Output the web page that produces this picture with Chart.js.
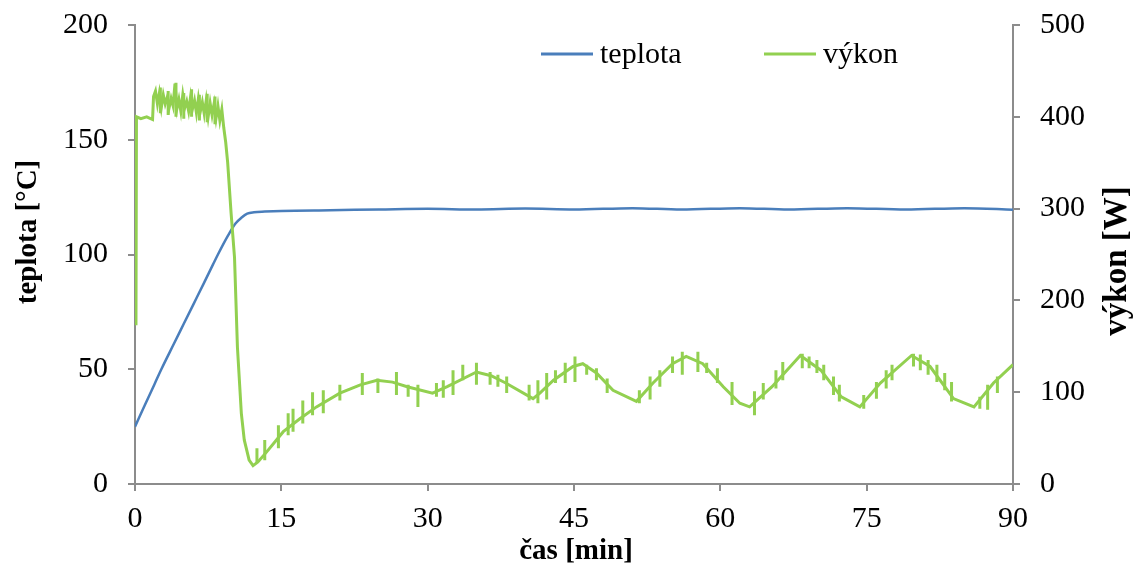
<!DOCTYPE html>
<html lang="cs">
<head>
<meta charset="utf-8">
<title>teplota a výkon</title>
<script src="https://cdn.jsdelivr.net/npm/chart.js@4.4.0/dist/chart.umd.min.js"></script>
<style>
	html, body { margin: 0; padding: 0; background: #fff; }
	canvas { display: block; }
</style>
</head>
<body>
<canvas id="graf" width="1136" height="566"></canvas>
<script>
// teplota [°C] – levá osa
const casTeplota = [0, 1, 2, 2.7, 4, 5, 6, 7, 8, 8.5, 9.5, 10.3, 10.9, 11.5, 12.2, 13.3, 15, 20, 25, 30, 35, 40, 45, 51, 56, 62, 67, 73, 79, 85, 90];
const teplota = [25, 34.3, 43.5, 50, 61.2, 69.8, 78.4, 87, 95.7, 100, 108, 113.5, 116, 117.8, 118.4, 118.7, 119, 119.3, 119.6, 119.9, 119.6, 120, 119.6, 120.2, 119.6, 120.2, 119.6, 120.2, 119.6, 120.2, 119.5];

// výkon [W] – pravá osa
const casVykon = [
	0.1, 0.15, 0.6, 1.2, 1.8,
	1.9, 2.1, 2.3, 2.5, 2.7, 2.9, 3.1, 3.3, 3.5, 3.7, 3.9, 4.1, 4.3, 4.5, 4.7, 4.9, 5.1, 5.3, 5.5, 5.7,
	5.9, 6.1, 6.3, 6.5, 6.7, 6.9, 7.1, 7.3, 7.5, 7.7, 7.9, 8.1, 8.3, 8.5, 8.7, 8.9, 9.1,
	9.3, 9.5, 9.85, 10.2, 10.5, 10.9, 11.2, 11.7, 12.1, 12.6, 13.5, 15.2, 16.9, 18.6, 21, 23.1, 24.8,
	26.4, 27.9, 30.5, 32, 35, 36.5, 38, 40.8, 41.5, 42.9, 44.9, 45.9, 47.3, 49, 51.4, 53.1, 55.1,
	56.5, 58.2, 60.3, 62, 63, 65.3, 68.2, 70.3, 72.4, 74.3, 76.4, 79.6, 81.5, 83.9, 86, 88, 90
];
const vykon = [
	173, 400, 398, 400, 397,
	422, 428, 414, 426, 410, 424, 414, 421, 410, 420, 412, 436, 409, 419, 406, 424, 410, 417, 406, 422,
	409, 418, 404, 420, 406, 416, 403, 418, 400, 415, 402, 414, 398, 412, 396, 408, 388,
	372, 350, 295, 247, 149, 77, 48, 26, 20, 24, 35, 57, 71, 84, 99, 108, 113,
	111, 106, 99, 106, 122, 118, 110, 93, 99, 113, 128, 131, 121, 102, 90, 110, 131,
	139, 131, 106, 88, 84, 106, 140, 124, 95, 84, 110, 140, 128, 93, 84, 110, 130
];

// krátké svislé špičky výkonu (čas, minimum, maximum)
const spickyCas = [2.6, 3.4, 4.2, 5.0, 5.8, 6.6, 7.4, 8.2, 12.5, 13.3, 14.7, 15.7, 16.2, 17.2, 18.2, 19.3, 21, 23.3, 24.9, 26.8, 28, 29, 30.9, 31.6, 32.6, 33.6, 35, 36.4, 37.2, 38.1, 40.4, 41.3, 42.2, 43.1, 44.1, 45.1, 46.3, 47.3, 48.4, 51.7, 52.8, 53.8, 55.1, 56.1, 57.7, 58.6, 59.7, 61.2, 63.5, 64.4, 65.7, 66.4, 68.4, 69.1, 69.9, 70.6, 71.6, 72.2, 74.7, 76, 77, 77.6, 79.8, 80.5, 81.3, 82.2, 83, 83.7, 86.6, 87.4, 88.4];
const spickyMin = [404, 402, 400, 398, 400, 396, 394, 392, 23, 26, 39, 53, 57, 66, 75, 77, 91, 97, 99, 97, 95, 84, 95, 94, 97, 113, 108, 108, 106, 99, 91, 88, 92, 110, 110, 111, 119, 113, 99, 88, 92, 106, 121, 119, 122, 121, 110, 86, 75, 92, 104, 113, 126, 126, 121, 113, 97, 90, 82, 93, 104, 113, 128, 124, 119, 111, 102, 90, 82, 81, 99];
const spickyMax = [432, 428, 437, 426, 430, 424, 425, 422, 39, 48, 64, 77, 82, 91, 100, 102, 108, 121, 115, 122, 108, 108, 110, 113, 124, 130, 132, 122, 119, 117, 108, 113, 121, 124, 132, 139, 130, 126, 115, 102, 117, 124, 139, 144, 144, 132, 126, 111, 101, 110, 124, 133, 142, 139, 135, 130, 117, 108, 97, 111, 124, 130, 142, 141, 135, 130, 121, 111, 95, 108, 117];

const nazevTeplota = "teplota";
const nazevVykon = "výkon";
const titulekX = "čas [min]";
const titulekLeva = "teplota [°C]";
const titulekPrava = "výkon [W]";

const modra = "#4a7ebb";
const zelena = "#92d050";
const seda = "#8c8c8c";
const pismo = "'Liberation Serif', 'Times New Roman', serif";

const teplotaData = casTeplota.map((t, i) => ({ x: t, y: teplota[i] }));
const vykonData = casVykon.map((t, i) => ({ x: t, y: vykon[i] }));
const spickyData = [];
spickyCas.forEach((t, i) => {
	spickyData.push({ x: t, y: spickyMin[i] }, { x: t, y: spickyMax[i] }, { x: t, y: null });
});

// popisky os a legenda
const popisky = {
	id: "popisky",
	afterDraw(chart) {
		const ctx = chart.ctx;
		ctx.save();
		ctx.fillStyle = "#000";
		ctx.textBaseline = "middle";
		ctx.textAlign = "center";

		ctx.font = "bold 29px " + pismo;
		ctx.save();
		ctx.translate(29, 232);
		ctx.rotate(-Math.PI / 2);
		ctx.fillText(titulekLeva, 0, 0);
		ctx.restore();

		ctx.font = "bold 33px " + pismo;
		ctx.save();
		ctx.translate(1117, 261);
		ctx.rotate(-Math.PI / 2);
		ctx.fillText(titulekPrava, 0, 0);
		ctx.restore();

		ctx.font = "bold 29px " + pismo;
		ctx.fillText(titulekX, 576, 552);

		// legenda
		const polozky = [
			{ text: nazevTeplota, barva: modra, x: 541 },
			{ text: nazevVykon, barva: zelena, x: 764 }
		];
		ctx.font = "30px " + pismo;
		ctx.textAlign = "left";
		polozky.forEach((p) => {
			ctx.strokeStyle = p.barva;
			ctx.lineWidth = 3;
			ctx.beginPath();
			ctx.moveTo(p.x, 54);
			ctx.lineTo(p.x + 52, 54);
			ctx.stroke();
			ctx.fillText(p.text, p.x + 59, 55);
		});
		ctx.restore();
	}
};

const osaSpolecne = {
	border: { display: true, color: seda, width: 2 },
	grid: { display: true, drawOnChartArea: false, drawTicks: true, tickLength: 7, color: seda, lineWidth: 2 }
};

const sirkaOsy = (sirka) => (scale) => {
	scale.width = sirka;
	scale.paddingTop = 0;
	scale.paddingBottom = 0;
};

new Chart(document.getElementById("graf"), {
	type: "line",
	data: {
		datasets: [
			{
				label: nazevVykon,
				data: vykonData,
				yAxisID: "yVykon",
				borderColor: zelena,
				borderWidth: 3,
				pointRadius: 0,
				tension: 0,
				order: 0
			},
			{
				label: "spicky",
				data: spickyData,
				yAxisID: "yVykon",
				borderColor: zelena,
				borderWidth: 3,
				pointRadius: 0,
				tension: 0,
				spanGaps: false,
				order: 0
			},
			{
				label: nazevTeplota,
				data: teplotaData,
				yAxisID: "yTeplota",
				borderColor: modra,
				borderWidth: 2.5,
				pointRadius: 0,
				cubicInterpolationMode: "monotone",
				order: 1
			}
		]
	},
	options: {
		responsive: false,
		animation: false,
		devicePixelRatio: 1,
		layout: { padding: { top: 25, left: 0, right: 0, bottom: 0 } },
		plugins: {
			legend: { display: false },
			tooltip: { enabled: false }
		},
		scales: {
			x: {
				type: "linear",
				min: 0,
				max: 90,
				...osaSpolecne,
				ticks: { stepSize: 15, color: "#000", padding: 10, maxRotation: 0, font: { family: pismo, size: 30 } },
				afterFit: (scale) => {
					scale.height = 82;
					scale.paddingLeft = 0;
					scale.paddingRight = 0;
				}
			},
			yTeplota: {
				type: "linear",
				position: "left",
				min: 0,
				max: 200,
				...osaSpolecne,
				ticks: { stepSize: 50, color: "#000", padding: 20, font: { family: pismo, size: 30 } },
				afterFit: sirkaOsy(135)
			},
			yVykon: {
				type: "linear",
				position: "right",
				min: 0,
				max: 500,
				...osaSpolecne,
				ticks: { stepSize: 100, color: "#000", padding: 20, font: { family: pismo, size: 30 } },
				afterFit: sirkaOsy(123)
			}
		}
	},
	plugins: [popisky]
});
</script>
</body>
</html>
